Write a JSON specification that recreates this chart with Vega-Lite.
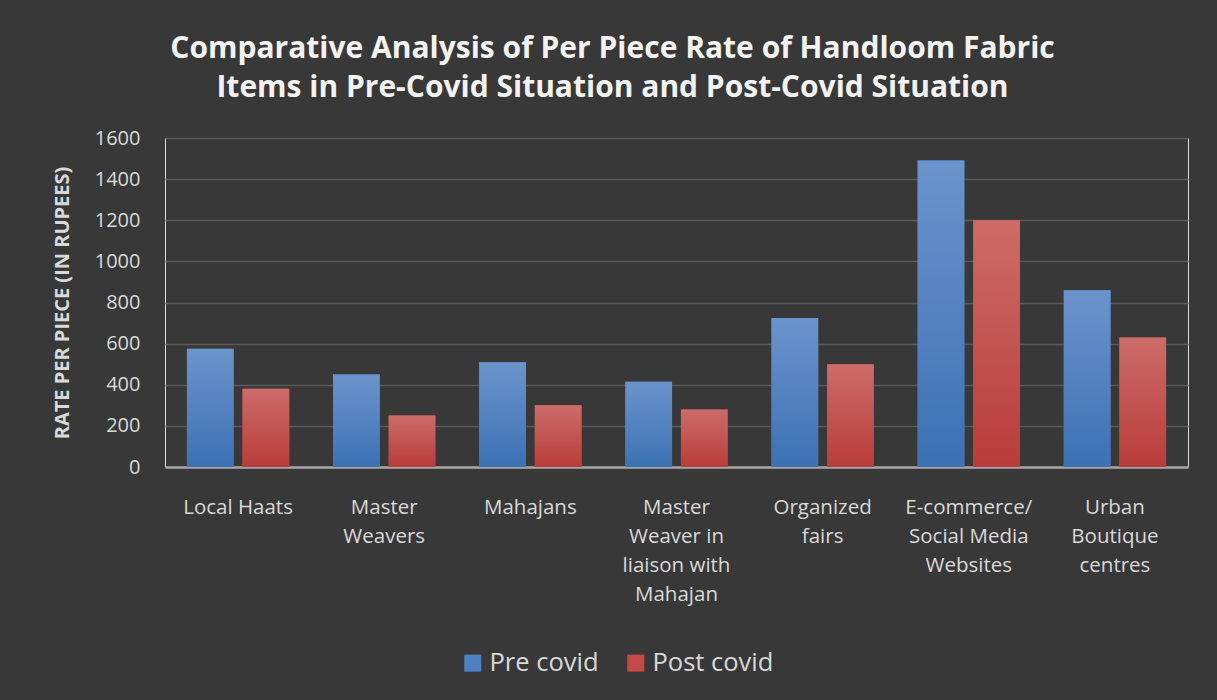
{
  "$schema": "https://vega.github.io/schema/vega-lite/v6.json",
  "width": 1023,
  "height": 329,
  "autosize": {"type": "none"},
  "padding": {"left": 165, "top": 138, "right": 29, "bottom": 233},
  "background": "#383838",
  "title": {
    "text": ["Comparative Analysis of Per Piece Rate of Handloom Fabric", "Items in Pre-Covid Situation and Post-Covid Situation"],
    "font": "Open Sans",
    "fontSize": 30,
    "fontWeight": "bold",
    "color": "#f2f2f2",
    "anchor": "middle",
    "frame": "group",
    "dx": -64,
    "offset": 25,
    "lineHeight": 39
  },
  "data": {
    "values": [
      {"channel": "Local Haats", "series": "Pre covid", "rate": 575},
      {"channel": "Local Haats", "series": "Post covid", "rate": 380},
      {"channel": "Master\nWeavers", "series": "Pre covid", "rate": 450},
      {"channel": "Master\nWeavers", "series": "Post covid", "rate": 250},
      {"channel": "Mahajans", "series": "Pre covid", "rate": 510},
      {"channel": "Mahajans", "series": "Post covid", "rate": 300},
      {"channel": "Master\nWeaver in\nliaison with\nMahajan", "series": "Pre covid", "rate": 415},
      {"channel": "Master\nWeaver in\nliaison with\nMahajan", "series": "Post covid", "rate": 280},
      {"channel": "Organized\nfairs", "series": "Pre covid", "rate": 725},
      {"channel": "Organized\nfairs", "series": "Post covid", "rate": 500},
      {"channel": "E-commerce/\nSocial Media\nWebsites", "series": "Pre covid", "rate": 1490},
      {"channel": "E-commerce/\nSocial Media\nWebsites", "series": "Post covid", "rate": 1200},
      {"channel": "Urban\nBoutique\ncentres", "series": "Pre covid", "rate": 860},
      {"channel": "Urban\nBoutique\ncentres", "series": "Post covid", "rate": 630}
    ]
  },
  "encoding": {
    "x": {
      "field": "channel",
      "type": "nominal",
      "sort": null,
      "scale": {"paddingInner": 0.3, "paddingOuter": 0.15},
      "axis": {
        "title": null,
        "labelAngle": 0,
        "labelExpr": "split(datum.value, '\\n')",
        "labelFont": "Open Sans",
        "labelFontSize": 20.5,
        "labelColor": "#d9d9d9",
        "labelLineHeight": 29,
        "labelPadding": 30,
        "labelLimit": 200,
        "ticks": false,
        "domainColor": "#a6a6a6",
        "domainWidth": 2.5,
        "grid": false
      }
    },
    "xOffset": {
      "field": "series",
      "type": "nominal",
      "scale": {"domain": ["Pre covid", "Post covid"], "paddingInner": 0.16}
    },
    "y": {
      "field": "rate",
      "type": "quantitative",
      "scale": {"domain": [0, 1600], "nice": false},
      "axis": {
        "title": "RATE PER PIECE (IN RUPEES)",
        "titleFont": "Open Sans",
        "titleFontSize": 20,
        "titleFontWeight": "bold",
        "titleColor": "#d9d9d9",
        "titlePadding": 22,
        "format": "d",
        "values": [0, 200, 400, 600, 800, 1000, 1200, 1400, 1600],
        "labelFont": "Open Sans",
        "labelFontSize": 20,
        "labelColor": "#d9d9d9",
        "labelPadding": 25,
        "ticks": false,
        "domain": false,
        "gridColor": "#5a5a5a",
        "gridWidth": 1.5
      }
    }
  },
  "layer": [
    {
      "mark": {"type": "bar"},
      "encoding": {
        "color": {
          "field": "series",
          "type": "nominal",
          "scale": {"domain": ["Pre covid", "Post covid"], "range": ["#4f81c2", "#c34a48"]},
          "legend": {
            "title": null,
            "orient": "none",
            "legendX": 295,
            "legendY": 512,
            "direction": "horizontal",
            "symbolType": "square",
            "symbolSize": 289,
            "symbolStrokeWidth": 0,
            "labelFont": "Open Sans",
            "labelFontSize": 25.5,
            "labelColor": "#d9d9d9",
            "labelOffset": 4,
            "columnPadding": 24
          }
        }
      }
    },
    {
      "mark": {"type": "bar"},
      "encoding": {
        "color": {
          "condition": {
            "test": "datum.series === 'Pre covid'",
            "value": {
              "gradient": "linear", "x1": 0, "y1": 0, "x2": 0, "y2": 1,
              "stops": [{"offset": 0, "color": "#6b94cc"}, {"offset": 1, "color": "#3c71b5"}]
            }
          },
          "value": {
            "gradient": "linear", "x1": 0, "y1": 0, "x2": 0, "y2": 1,
            "stops": [{"offset": 0, "color": "#cc6c69"}, {"offset": 1, "color": "#b93c3a"}]
          }
        }
      }
    }
  ]
}
